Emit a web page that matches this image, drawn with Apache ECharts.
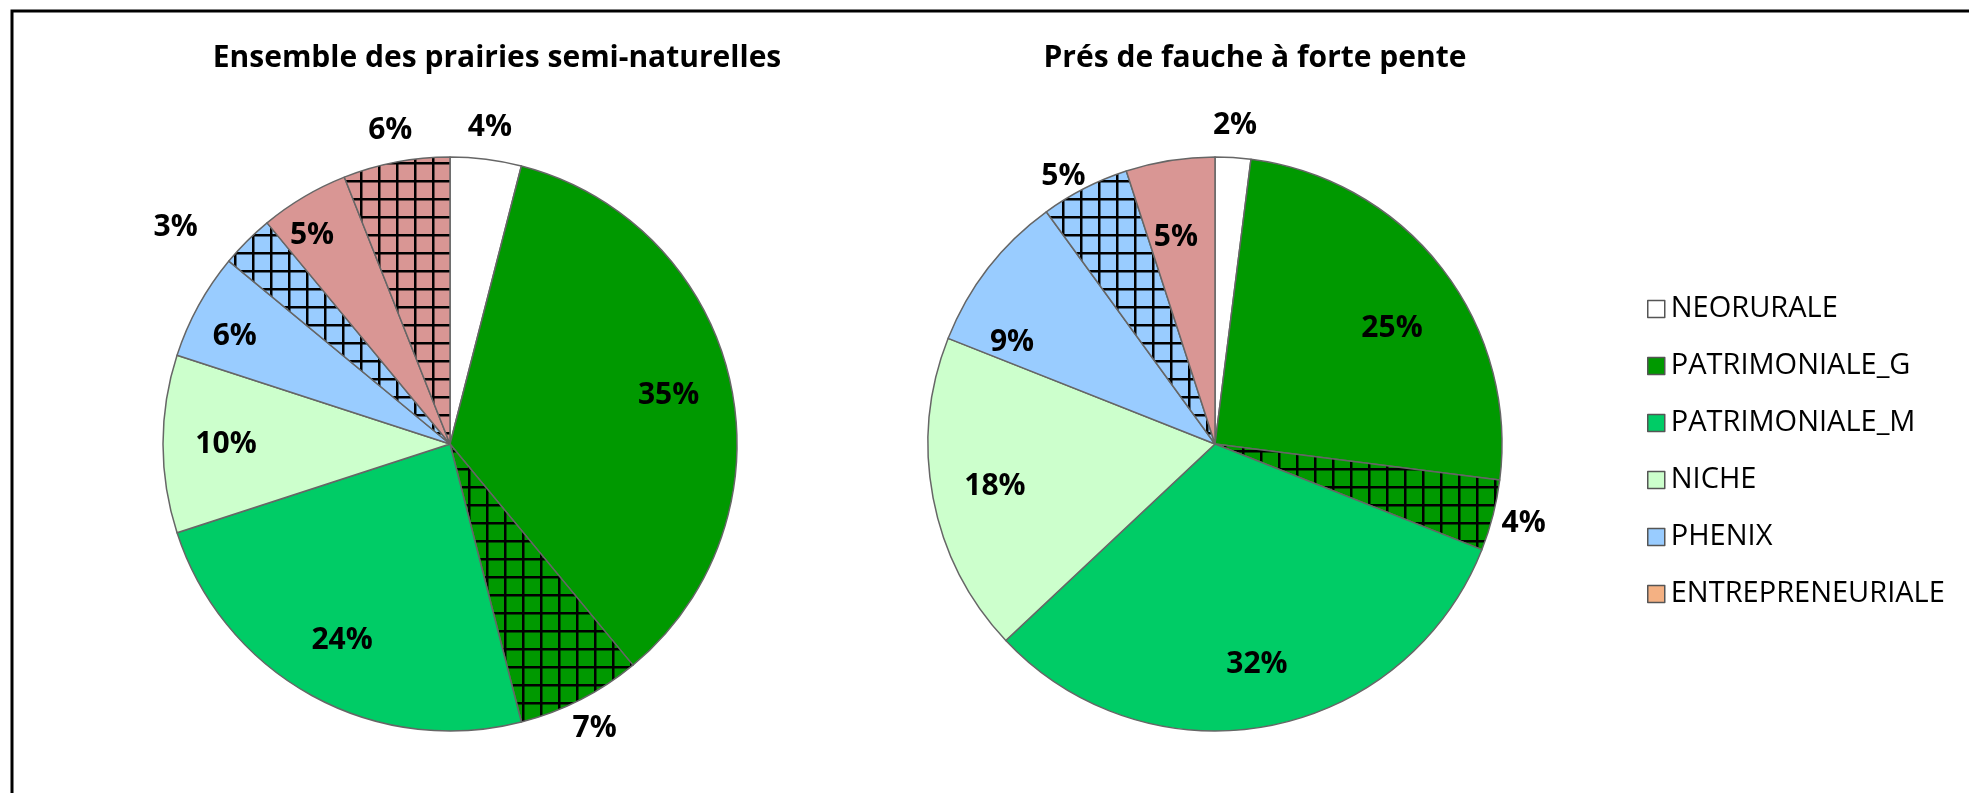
<!DOCTYPE html>
<html>
<head>
<meta charset="utf-8">
<script src="https://cdn.jsdelivr.net/npm/echarts@6/dist/echarts.min.js"></script>
<style>
  html, body { margin: 0; padding: 0; background: #fff; }
  #chart { width: 1969px; height: 793px; }
</style>
</head>
<body>
<div id="chart"></div>
<script>
// slices, clockwise from 12 o'clock
const sliceNames = ['NEORURALE', 'PATRIMONIALE_G', 'PATRIMONIALE_G (hachuré)', 'PATRIMONIALE_M', 'NICHE',
    'PHENIX', 'PHENIX (hachuré)', 'AUTRE', 'AUTRE (hachuré)', 'ENTREPRENEURIALE'];
const ensembleValues = [4, 35, 7, 24, 10, 6, 3, 5, 6, 0];
const faucheValues = [2, 25, 4, 32, 18, 9, 5, 5, 0, 0];
const pieTitles = ['Ensemble des prairies semi-naturelles', 'Prés de fauche à forte pente'];
const legendNames = ['NEORURALE', 'PATRIMONIALE_G', 'PATRIMONIALE_M', 'NICHE', 'PHENIX', 'ENTREPRENEURIALE'];

const sliceColors = ['#FFFFFF', '#009900', '#009900', '#00CC66', '#CCFFCC', '#99CCFF', '#99CCFF', '#D99694', '#D99694', '#F4B183'];
const hatched = [false, false, true, false, false, false, true, false, true, false];

const R = 287;
const pies = [
    { values: ensembleValues, center: [450, 444], titleX: 492 },
    { values: faucheValues, center: [1215, 444], titleX: 1250 }
];
// small hand nudges for labels Excel placed off the mid-angle ("pie-slice")
const labelNudge = {
    '0-5': [-19, 0], '0-6': [-49, 9], '0-7': [-24, -16],
    '1-1': [0, 22], '1-5': [-26, 36], '1-6': [-7, 16], '1-7': [-4, 15]
};
const FONT = '"Open Sans", "Noto Sans", sans-serif';

function hatch(color) {
    const c = document.createElement('canvas');
    c.width = 18; c.height = 18;
    const g = c.getContext('2d');
    g.fillStyle = color;
    g.fillRect(0, 0, 18, 18);
    g.fillStyle = '#000';
    g.fillRect(0, 0, 18, 2.5);
    g.fillRect(0, 0, 2.5, 18);
    return c;
}

function fillOf(i) {
    return hatched[i] ? { image: hatch(sliceColors[i]), repeat: 'repeat' } : sliceColors[i];
}

// hatched and tiny slices carry their label outside the pie
const isOutside = (v, i) => hatched[i] || v < 5;

const labelStyle = {
    position: 'inside', formatter: '{c}%', color: '#000',
    fontFamily: FONT, fontWeight: 'bold', fontSize: 30
};

const series = [];
pies.forEach((p, k) => {
    series.push({
        type: 'pie', radius: R, center: p.center, startAngle: 90, clockwise: true,
        avoidLabelOverlap: false, silent: true, emphasis: { disabled: true },
        label: { show: false }, labelLine: { show: false },
        data: p.values.map((v, i) => ({
            name: sliceNames[i], value: v,
            itemStyle: { color: fillOf(i), borderColor: '#666', borderWidth: v ? 1.5 : 0 }
        }))
    });
    // label rings: inside labels sit at ~0.77 R, outside ones at ~1.10 R
    [[R * 0.54, R, false], [R, R * 1.2, true]].forEach(([r0, r1, outer]) => {
        series.push({
            type: 'pie', radius: [r0, r1], center: p.center, startAngle: 90, clockwise: true,
            avoidLabelOverlap: false, silent: true, emphasis: { disabled: true },
            labelLine: { show: false },
            data: p.values.map((v, i) => ({
                name: sliceNames[i], value: v,
                itemStyle: { color: 'rgba(0,0,0,0)', borderWidth: 0 },
                label: Object.assign({}, labelStyle, {
                    show: v > 0 && isOutside(v, i) === outer,
                    offset: labelNudge[k + '-' + i] || [0, 0]
                })
            }))
        });
    });
});

const chart = echarts.init(document.getElementById('chart'));
chart.setOption({
    backgroundColor: '#fff',
    animation: false,
    title: pies.map((p, k) => ({
        text: pieTitles[k], left: p.titleX, top: 38, textAlign: 'center',
        textStyle: { fontFamily: FONT, fontWeight: 'bold', fontSize: 30, color: '#000' }
    })),
    legend: {
        orient: 'vertical', left: 1642, top: 289,
        itemWidth: 17, itemHeight: 17, itemGap: 27, icon: 'rect',
        selectedMode: false,
        textStyle: { fontFamily: FONT, fontSize: 29, color: '#000', lineHeight: 30, padding: [0, 0, 0, 1] },
        data: legendNames.map(n => ({
            name: n,
            itemStyle: { color: sliceColors[sliceNames.indexOf(n)], borderColor: '#555', borderWidth: 1.5 }
        }))
    },
    graphic: [{
        type: 'rect', silent: true,
        shape: { x: 12, y: 11, width: 2100, height: 1000 },
        style: { fill: 'none', stroke: '#000', lineWidth: 3 }
    }],
    series: series
});
</script>
</body>
</html>
